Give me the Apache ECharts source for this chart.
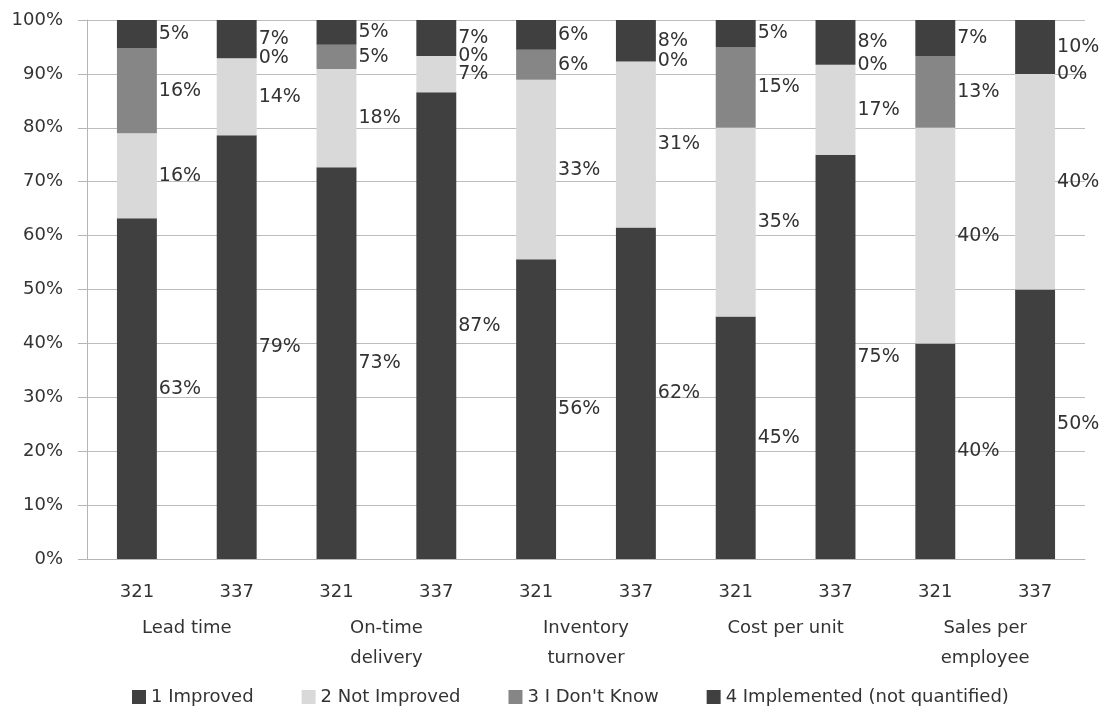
<!DOCTYPE html>
<html>
<head>
<meta charset="utf-8">
<script src="https://cdn.jsdelivr.net/npm/echarts@6/dist/echarts.min.js"></script>
<style>
  html, body { margin: 0; padding: 0; background: #ffffff; }
  #chart { width: 1105px; height: 707px; }
</style>
</head>
<body>
<div id="chart"></div>
<script>
// Sample sizes shown under each bar, and the measure each pair belongs to
const categories = ['321', '337', '321', '337', '321', '337', '321', '337', '321', '337'];
const groups = ['Lead time', 'On-time\ndelivery', 'Inventory\nturnover', 'Cost per unit', 'Sales per\nemployee'];

// Share of respondents (%) per answer, stacked bottom to top
const improved    = [63.2, 78.6, 72.7, 86.6, 55.6, 61.5, 45.0, 75.0, 40.0, 50.0];
const notImproved = [15.8, 14.3, 18.2,  6.7, 33.3, 30.8, 35.0, 16.7, 40.0, 40.0];
const dontKnow    = [15.8,  0.0,  4.5,  0.0,  5.6,  0.0, 15.0,  0.0, 13.3,  0.0];
const implemented = [ 5.2,  7.1,  4.6,  6.7,  5.5,  7.7,  5.0,  8.3,  6.7, 10.0];

const seriesNames = ['1 Improved', '2 Not Improved', "3 I Don't Know", '4 Implemented (not quantified)'];
const yTicks = { min: 0, max: 100, interval: 10 };

const FONT = 'DejaVu Sans';
const TEXT = '#333333';
const colors = ['#404040', '#d9d9d9', '#868686', '#404040'];

const chart = echarts.init(document.getElementById('chart'), null, { renderer: 'canvas' });

function barSeries(name, values, color) {
  return {
    name: name,
    type: 'bar',
    stack: 'total',
    xAxisIndex: 0,
    barWidth: '40%',
    data: values,
    itemStyle: { color: color },
    label: {
      show: true,
      position: 'right',
      distance: 2,
      color: TEXT,
      fontFamily: FONT,
      fontSize: 19,
      formatter: p => Math.round(p.value) + '%'
    },
    emphasis: { disabled: true }
  };
}

chart.setOption({
  animation: false,
  backgroundColor: '#ffffff',
  color: colors,
  textStyle: { fontFamily: FONT },
  grid: { left: 87, right: 20, top: 20, bottom: 148, containLabel: false },
  legend: {
    data: seriesNames,
    left: 127,
    top: 683,
    icon: 'rect',
    itemWidth: 14,
    itemHeight: 14,
    itemGap: 48,
    textStyle: { color: TEXT, fontFamily: FONT, fontSize: 18 }
  },
  xAxis: [
    {
      type: 'category',
      data: categories,
      position: 'bottom',
      axisLine: { show: true, lineStyle: { color: '#b5b5b5', width: 1 } },
      axisTick: { show: false },
      axisLabel: {
        interval: 0,
        margin: 22,
        color: TEXT,
        fontFamily: FONT,
        fontSize: 18,
        lineHeight: 22
      },
      splitLine: { show: false }
    },
    {
      type: 'category',
      data: groups,
      position: 'bottom',
      offset: 0,
      axisLine: { show: false },
      axisTick: { show: false },
      axisLabel: {
        interval: 0,
        margin: 54,
        color: TEXT,
        fontFamily: FONT,
        fontSize: 18,
        lineHeight: 30
      },
      splitLine: { show: false }
    }
  ],
  yAxis: {
    type: 'value',
    min: yTicks.min,
    max: yTicks.max,
    interval: yTicks.interval,
    axisLine: { show: true, lineStyle: { color: '#b5b5b5', width: 1 } },
    axisTick: { show: true, inside: false, length: 9, lineStyle: { color: '#b5b5b5' } },
    axisLabel: {
      margin: 24,
      color: TEXT,
      fontFamily: FONT,
      fontSize: 18,
      formatter: '{value}%'
    },
    splitLine: { show: true, lineStyle: { color: '#bdbdbd', width: 1 } }
  },
  series: [
    barSeries(seriesNames[0], improved, colors[0]),
    barSeries(seriesNames[1], notImproved, colors[1]),
    barSeries(seriesNames[2], dontKnow, colors[2]),
    barSeries(seriesNames[3], implemented, colors[3])
  ]
});
</script>
</body>
</html>
